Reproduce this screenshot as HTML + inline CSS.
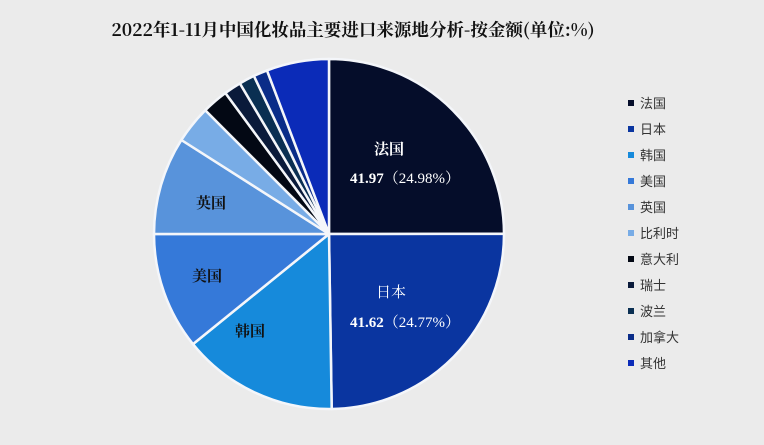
<!DOCTYPE html>
<html><head><meta charset="utf-8"><style>
html,body{margin:0;padding:0;background:#ebebeb;}
svg{display:block}
</style></head><body>
<svg width="764" height="445" viewBox="0 0 764 445" xmlns="http://www.w3.org/2000/svg">
<rect width="764" height="445" fill="#ebebeb"/>
<text x="353" y="36" text-anchor="middle" font-family="Noto Serif CJK SC, Liberation Serif, serif" font-weight="bold" font-size="17.5" fill="#111">2022年1-11月中国化妆品主要进口来源地分析-按金额(单位:%)</text>
<g stroke="#f4f6fa" stroke-width="2.5" stroke-linejoin="round">
<path d="M329,234 L329,59 A175,175 0 0 1 504,233.8 Z" fill="#050d2a"/>
<path d="M329,234 L504,233.8 A175,175 0 0 1 331.7,409 Z" fill="#0a35a0"/>
<path d="M329,234 L331.7,409 A175,175 0 0 1 193,344.1 Z" fill="#168adb"/>
<path d="M329,234 L193,344.1 A175,175 0 0 1 154,234 Z" fill="#3579d9"/>
<path d="M329,234 L154,234 A175,175 0 0 1 181.4,140 Z" fill="#5893db"/>
<path d="M329,234 L181.4,140 A175,175 0 0 1 205.3,110.3 Z" fill="#78ace6"/>
<path d="M329,234 L205.3,110.3 A175,175 0 0 1 225.4,93 Z" fill="#030814"/>
<path d="M329,234 L225.4,93 A175,175 0 0 1 239.9,83.4 Z" fill="#0a1a3a"/>
<path d="M329,234 L239.9,83.4 A175,175 0 0 1 253.9,75.9 Z" fill="#0a2f52"/>
<path d="M329,234 L253.9,75.9 A175,175 0 0 1 267,70.4 Z" fill="#0a2c88"/>
<path d="M329,234 L267,70.4 A175,175 0 0 1 329,59 Z" fill="#0b2bb8"/>
</g>
<g font-family="Liberation Serif, Noto Serif CJK SC, serif" font-size="15">
<text x="389" y="154" text-anchor="middle" fill="#fff" font-weight="bold">法国</text>
<text x="350" y="183" fill="#fff"><tspan font-weight="bold">41.97</tspan>（24.98%）</text>
<text x="391" y="297" text-anchor="middle" fill="#fff">日本</text>
<text x="350" y="327" fill="#fff"><tspan font-weight="bold">41.62</tspan>（24.77%）</text>
<text x="250" y="336" text-anchor="middle" fill="#111" font-weight="bold">韩国</text>
<text x="207" y="281" text-anchor="middle" fill="#111" font-weight="bold">美国</text>
<text x="211" y="208" text-anchor="middle" fill="#111" font-weight="bold">英国</text>
</g>
<g font-family="Liberation Sans, Noto Sans CJK SC, sans-serif" font-size="13" fill="#333">
<rect x="628" y="100" width="6" height="6" fill="#050d2a"/><text x="640" y="108">法国</text>
<rect x="628" y="126" width="6" height="6" fill="#0a35a0"/><text x="640" y="134">日本</text>
<rect x="628" y="152" width="6" height="6" fill="#168adb"/><text x="640" y="160">韩国</text>
<rect x="628" y="178" width="6" height="6" fill="#3579d9"/><text x="640" y="186">美国</text>
<rect x="628" y="204" width="6" height="6" fill="#5893db"/><text x="640" y="212">英国</text>
<rect x="628" y="230" width="6" height="6" fill="#78ace6"/><text x="640" y="238">比利时</text>
<rect x="628" y="256" width="6" height="6" fill="#030814"/><text x="640" y="264">意大利</text>
<rect x="628" y="282" width="6" height="6" fill="#0a1a3a"/><text x="640" y="290">瑞士</text>
<rect x="628" y="308" width="6" height="6" fill="#0a2f52"/><text x="640" y="316">波兰</text>
<rect x="628" y="334" width="6" height="6" fill="#0a2c88"/><text x="640" y="342">加拿大</text>
<rect x="628" y="360" width="6" height="6" fill="#0b2bb8"/><text x="640" y="368">其他</text>
</g>
</svg>
</body></html>
